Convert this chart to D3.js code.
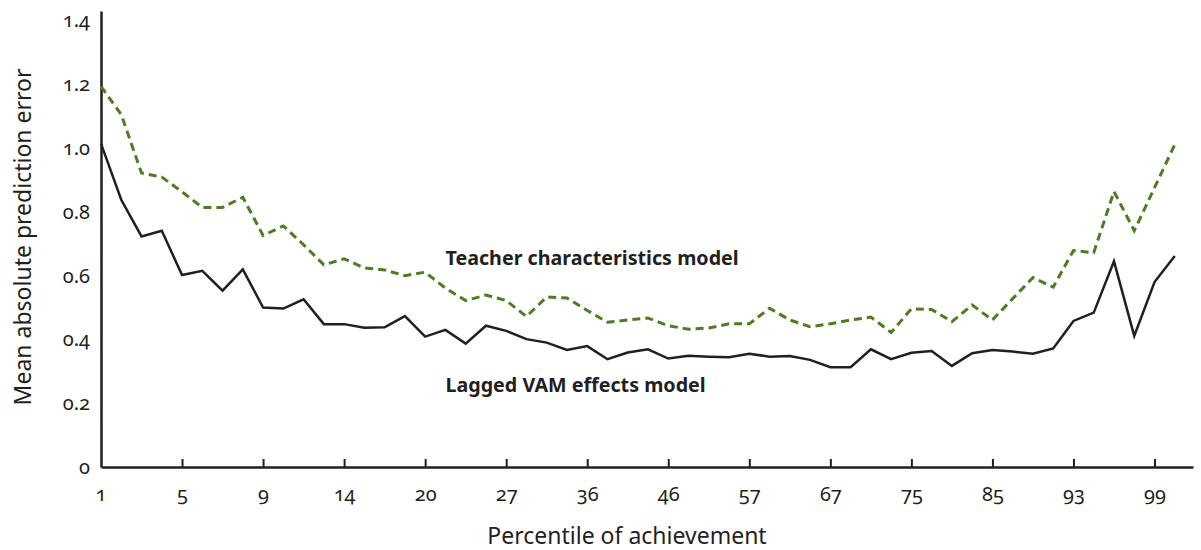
<!DOCTYPE html>
<html>
<head>
<meta charset="utf-8">
<script src="https://cdn.jsdelivr.net/npm/d3@7"></script>
<style>
  body { margin: 0; background: #fff; }
  svg text { font-family: "Noto Sans", "Open Sans", sans-serif; fill: #231f20; font-variant-numeric: oldstyle-nums; }
</style>
</head>
<body>
<div id="chart"></div>
<script>
// percentile tick labels, one every 4 points
var tickLabels = ['1', '5', '9', '14', '20', '27', '36', '46', '57', '67', '75', '85', '93', '99'];
var yTicks = [0, 0.2, 0.4, 0.6, 0.8, 1.0, 1.2, 1.4];

// mean absolute prediction error
var laggedVam = [1.014, 0.838, 0.723, 0.741, 0.602, 0.615, 0.553, 0.620, 0.500, 0.497,
  0.526, 0.448, 0.448, 0.437, 0.438, 0.473, 0.409, 0.430, 0.387, 0.443,
  0.427, 0.401, 0.390, 0.367, 0.379, 0.338, 0.359, 0.369, 0.340, 0.349,
  0.346, 0.344, 0.355, 0.346, 0.348, 0.336, 0.313, 0.313, 0.369, 0.338,
  0.358, 0.364, 0.317, 0.357, 0.367, 0.362, 0.355, 0.372, 0.458, 0.484,
  0.645, 0.411, 0.580, 0.662];
var teacherChar = [1.194, 1.105, 0.922, 0.909, 0.863, 0.814, 0.814, 0.846, 0.726, 0.756,
  0.697, 0.634, 0.653, 0.624, 0.618, 0.600, 0.611, 0.561, 0.522, 0.539,
  0.522, 0.472, 0.533, 0.530, 0.491, 0.454, 0.461, 0.467, 0.443, 0.432,
  0.436, 0.449, 0.449, 0.498, 0.461, 0.440, 0.449, 0.461, 0.470, 0.422,
  0.496, 0.494, 0.456, 0.508, 0.461, 0.528, 0.594, 0.564, 0.679, 0.672,
  0.864, 0.741, 0.876, 1.011];

var width = 1201;
var height = 550;

var svg = d3.select('#chart')
    .append('svg')
    .attr('width', width)
    .attr('height', height);

var x = d3.scaleLinear().domain([0, 53.9]).range([101, 1193]);
var y = d3.scaleLinear().domain([0, 1.43]).range([467, 11]);

// x axis: ticks point up, none at the origin
var xAxis = d3.axisBottom(x)
    .tickValues(d3.range(4, 53, 4))
    .tickSizeInner(-8)
    .tickSizeOuter(0)
    .tickPadding(20)
    .tickFormat(function(d) { return tickLabels[d / 4]; });

var gx = svg.append('g')
    .attr('transform', 'translate(0,' + y(0) + ')')
    .call(xAxis);
gx.select('.domain').attr('stroke', '#231f20').attr('stroke-width', 2.5);
gx.selectAll('.tick line').attr('stroke', '#231f20').attr('stroke-width', 2);
gx.selectAll('.tick text').attr('font-size', 20);
// first label sits under the origin
gx.append('text')
    .attr('x', x(0))
    .attr('y', 20)
    .attr('dy', '0.71em')
    .attr('text-anchor', 'middle')
    .attr('font-size', 20)
    .text(tickLabels[0]);

var yAxis = d3.axisLeft(y)
    .tickValues(yTicks)
    .tickSize(0)
    .tickPadding(11)
    .tickFormat(function(d) { return d === 0 ? '0' : d3.format('.1f')(d); });

var gy = svg.append('g')
    .attr('transform', 'translate(' + x(0) + ',0)')
    .call(yAxis);
gy.select('.domain').attr('stroke', '#231f20').attr('stroke-width', 2.5);
gy.selectAll('.tick text').attr('font-size', 20);

var line = d3.line()
    .x(function(d, i) { return x(i); })
    .y(function(d) { return y(d); });

svg.append('path')
    .datum(teacherChar)
    .attr('d', line)
    .attr('fill', 'none')
    .attr('stroke', '#4d7c21')
    .attr('stroke-width', 3)
    .attr('stroke-dasharray', '8,5');

svg.append('path')
    .datum(laggedVam)
    .attr('d', line)
    .attr('fill', 'none')
    .attr('stroke', '#231f20')
    .attr('stroke-width', 2.5)
    .attr('stroke-linejoin', 'miter');

// series labels
svg.append('text')
    .attr('x', x(17))
    .attr('y', y(0.633))
    .attr('font-size', 19.7)
    .attr('font-weight', 'bold')
    .text('Teacher characteristics model');

svg.append('text')
    .attr('x', x(17))
    .attr('y', y(0.236))
    .attr('font-size', 19.7)
    .attr('font-weight', 'bold')
    .text('Lagged VAM effects model');

// axis titles
svg.append('text')
    .attr('transform', 'translate(31,' + 237 + ') rotate(-90)')
    .attr('text-anchor', 'middle')
    .attr('font-size', 23)
    .text('Mean absolute prediction error');

svg.append('text')
    .attr('x', 627)
    .attr('y', 544)
    .attr('text-anchor', 'middle')
    .attr('font-size', 23)
    .text('Percentile of achievement');
</script>
</body>
</html>
